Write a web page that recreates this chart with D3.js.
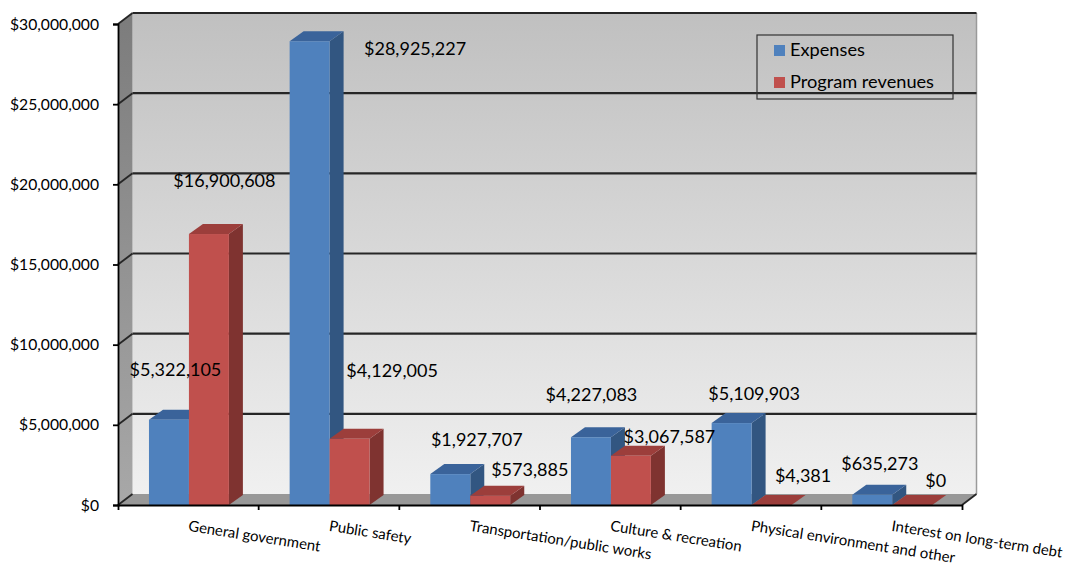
<!DOCTYPE html>
<html>
<head>
<meta charset="utf-8">
<script src="https://cdn.jsdelivr.net/npm/d3@7/dist/d3.min.js"></script>
<style>
html,body{margin:0;padding:0;background:#fff}
svg{display:block}
text{font-family:Lato,"Open Sans",sans-serif;fill:#000}
</style>
</head>
<body>
<svg id="chart" width="1067" height="566"></svg>
<script>
// Governmental activities by function
const categories = ["General government","Public safety","Transportation/public works","Culture & recreation","Physical environment and other","Interest on long-term debt"];
const seriesNames = ["Expenses","Program revenues"];
const expenses = [5322105,28925227,1927707,4227083,5109903,635273];
const programRevenues = [16900608,4129005,573885,3067587,4381,0];
const tickValues = [0,5000000,10000000,15000000,20000000,25000000,30000000];

// Per-bar nudges for the value labels, measured from the top-centre of the front face
const expenseLabelNudge = [[6.5,-48],[105.5,9],[26.5,-33],[0.5,-41],[22.5,-28],[7.5,-29]];
const revenueLabelNudge = [[15.5,-52],[42.5,-66],[39.5,-24],[38.5,-17],[31.5,-27],[23.5,-23]];

const palette = {
  Expenses:{front:"#4f81bd",top:"#3a639a",side:"#325681"},
  "Program revenues":{front:"#c0504d",top:"#9c3e3b",side:"#7f3330"}
};

const svg = d3.select("#chart");
const left=118, right=962, top0=24, bottom=505;
const wallDx=14.5, wallDy=-11;     // shift of the back wall relative to the front plane
const barDx=14, barDy=-10;         // depth of each column

const x = d3.scaleBand().domain(categories).range([left,right]);
const y = d3.scaleLinear().domain([0,30000000]).range([bottom,top0]);
const inner = d3.scaleBand().domain(seriesNames).range([0.6,x.bandwidth()+0.6]).paddingInner(0).paddingOuter(0.76);
const fmt = d3.format("$,.0f");

const defs = svg.append("defs");
const wallGrad = defs.append("linearGradient").attr("id","wall").attr("x1",0).attr("x2",0).attr("y1",0).attr("y2",1);
wallGrad.append("stop").attr("offset",0).attr("stop-color","#c0c0c0");
wallGrad.append("stop").attr("offset",1).attr("stop-color","#f0f0f0");
const sideGrad = defs.append("linearGradient").attr("id","sideWall").attr("x1",0).attr("x2",0).attr("y1",0).attr("y2",1);
sideGrad.append("stop").attr("offset",0).attr("stop-color","#7c7c7c");
sideGrad.append("stop").attr("offset",1).attr("stop-color","#a8a8a8");

const poly = pts => pts.map(p=>p.join(",")).join(" ");

// Back wall, left wall, floor
svg.append("rect").attr("x",left+wallDx).attr("y",top0+wallDy)
  .attr("width",right-left).attr("height",bottom-top0).attr("fill","url(#wall)");
svg.append("polygon").attr("fill","url(#sideWall)")
  .attr("points",poly([[left,top0],[left+wallDx,top0+wallDy],[left+wallDx,bottom+wallDy],[left,bottom]]));
svg.append("polygon").attr("fill","#989898")
  .attr("points",poly([[left,bottom],[left+wallDx,bottom+wallDy],[right+wallDx,bottom+wallDy],[right,bottom]]));
svg.append("line").attr("x1",right+wallDx).attr("x2",right+wallDx)
  .attr("y1",top0+wallDy).attr("y2",bottom+wallDy).attr("stroke","#9a9a9a").attr("stroke-width",1.5);

// Gridlines run along the back wall and fold down the left wall
const grid = svg.append("g").selectAll("g").data(tickValues).join("g");
grid.append("line")
  .attr("x1",left+wallDx).attr("x2",right+wallDx)
  .attr("y1",d=>y(d)+wallDy).attr("y2",d=>y(d)+wallDy)
  .attr("stroke","#262626").attr("stroke-width",d=>d===0?0:2.2);
grid.append("line")
  .attr("x1",left).attr("x2",left+wallDx)
  .attr("y1",d=>y(d)).attr("y2",d=>y(d)+wallDy)
  .attr("stroke","#262626").attr("stroke-width",1.8);
svg.append("line").attr("x1",right).attr("x2",right+wallDx)
  .attr("y1",bottom).attr("y2",bottom+wallDy).attr("stroke","#262626").attr("stroke-width",1.8);

// Columns, each with a front, a top and a side face
const rows = categories.map((c,i)=>({c,i,bars:[
  {s:"Expenses",v:expenses[i],nudge:expenseLabelNudge[i]},
  {s:"Program revenues",v:programRevenues[i],nudge:revenueLabelNudge[i]}
]}));
const groups = svg.append("g").selectAll("g").data(rows).join("g")
  .attr("transform",d=>`translate(${x(d.c)},0)`);
const bars = groups.selectAll("g").data(d=>d.bars).join("g");
const w = inner.bandwidth();
bars.append("polygon").attr("fill",d=>palette[d.s].side)
  .attr("points",d=>{const a=inner(d.s)+w;return poly([[a,y(d.v)],[a+barDx,y(d.v)+barDy],[a+barDx,bottom+barDy],[a,bottom]]);});
bars.append("polygon").attr("fill",d=>palette[d.s].top)
  .attr("points",d=>{const a=inner(d.s);return poly([[a,y(d.v)],[a+barDx,y(d.v)+barDy],[a+w+barDx,y(d.v)+barDy],[a+w,y(d.v)]]);});
bars.append("rect").attr("fill",d=>palette[d.s].front)
  .attr("x",d=>inner(d.s)).attr("width",w)
  .attr("y",d=>y(d.v)).attr("height",d=>bottom-y(d.v));

// Axes
const yAxis = d3.axisLeft(y).tickValues(tickValues).tickFormat(fmt).tickSize(5).tickPadding(14);
const gy = svg.append("g").attr("transform",`translate(${left},0)`).call(yAxis);
gy.selectAll("path,line").attr("stroke","#000").attr("stroke-width",1.8);
gy.selectAll("text").attr("font-size",15.7).style("font-family","Lato,'Open Sans',sans-serif");

const xAxis = d3.axisBottom(x).tickSizeInner(0).tickSizeOuter(5).tickFormat("");
const gx = svg.append("g").attr("transform",`translate(0,${bottom})`).call(xAxis);
gx.selectAll("path,line").attr("stroke","#000").attr("stroke-width",1.8);
gx.selectAll(".divider").data(categories.slice(1)).join("line").attr("class","divider")
  .attr("x1",d=>x(d)).attr("x2",d=>x(d)).attr("y1",0).attr("y2",5).attr("stroke","#000").attr("stroke-width",1.8);

// Slanted category names start below the middle of each group
svg.append("g").selectAll("text").data(categories).join("text")
  .attr("transform",d=>`translate(${x(d)+x.bandwidth()/2},${bottom+22}) rotate(9)`)
  .attr("font-size",14.9).attr("dominant-baseline","middle")
  .text(d=>d);

// Value labels sit above every column, so they get their own layer
svg.append("g").selectAll("text")
  .data(rows.flatMap(r=>r.bars.map(b=>({...b,c:r.c}))))
  .join("text")
  .attr("x",d=>x(d.c)+inner(d.s)+w/2+d.nudge[0])
  .attr("y",d=>y(d.v)+d.nudge[1])
  .attr("text-anchor","middle").attr("dominant-baseline","middle")
  .attr("font-size",18)
  .text(d=>fmt(d.v));

// Legend
const legend = svg.append("g").attr("transform","translate(757,35)");
legend.append("rect").attr("width",196).attr("height",64).attr("fill","none").attr("stroke","#333").attr("stroke-width",1.2);
const items = legend.selectAll("g").data(seriesNames).join("g")
  .attr("transform",(d,i)=>`translate(17,${15+i*32})`);
items.append("rect").attr("y",-5).attr("width",11).attr("height",11).attr("fill",d=>palette[d].front);
items.append("text").attr("x",16).attr("y",1.5).attr("dominant-baseline","middle").attr("font-size",18.2).text(d=>d);
</script>
</body>
</html>
